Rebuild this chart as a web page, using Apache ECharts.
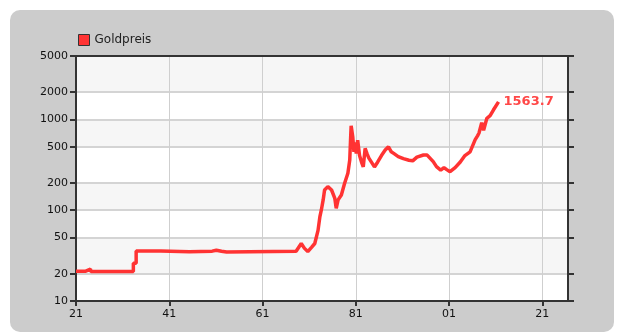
<!DOCTYPE html>
<html>
<head>
<meta charset="utf-8">
<script src="https://cdn.jsdelivr.net/npm/echarts@6/dist/echarts.min.js"></script>
<style>
  html, body { margin: 0; padding: 0; background: #fff; }
  #panel { position: absolute; left: 10px; top: 10px; width: 604px; height: 322px; background: #cccccc; border-radius: 10px; }
  #chart { position: absolute; left: 0; top: 0; width: 618px; height: 333px; }
</style>
</head>
<body>
<div id="panel"></div>
<div id="chart"></div>
<script>
const seriesName = "Goldpreis";
const lastLabel = "1563.7";

const years = [
  1921, 1923.1, 1923.2, 1924.1, 1924.2, 1933.3, 1933.3, 1933.9, 1933.9, 1939.2, 1939.2,
  1945.3, 1945.3, 1950.2, 1950.2, 1951.1, 1951.1, 1952.2, 1952.2, 1953.3, 1953.3, 1968.2,
  1969.3, 1970.0, 1970.7, 1971.5, 1972.2, 1972.9, 1973.3, 1973.6, 1974.0, 1974.3,
  1975.0, 1975.8, 1976.5, 1976.8, 1977.2, 1977.9, 1978.6, 1979.3, 1979.7, 1979.9,
  1980.0, 1980.35, 1980.6, 1980.8, 1981.1, 1981.4, 1981.8, 1982.3, 1982.6, 1983.0,
  1983.4, 1983.8, 1984.2, 1985.0, 1985.7, 1986.5, 1987.3, 1988.0, 1988.6, 1989.2,
  1990.1, 1991.2, 1992.4, 1993.2, 1994.1, 1995.5, 1996.3, 1997.6, 1998.3, 1999.2,
  1999.9, 2000.5, 2001.2, 2002.3, 2003.4, 2004.4, 2005.5, 2005.9, 2006.6, 2007.1,
  2007.4, 2008.0, 2008.4, 2009.1, 2009.8, 2010.5, 2011.6
];
const prices = [
  21.3, 21.3, 22.4, 22.4, 21.1, 21.1, 26, 26, 35.6, 35.6, 34.8,
  34.8, 35.4, 35.4, 36.3, 36.3, 35.3, 35.3, 34.6, 34.6, 35.3, 35.3,
  43, 38, 35, 39, 43, 60, 85, 100, 130, 167,
  182, 167, 135, 105, 130, 147, 198, 255, 358, 646,
  850, 640, 440, 560, 420, 590, 400, 330, 300, 480,
  420, 375, 380, 300, 340, 400, 460, 500, 440, 420,
  390, 370, 355, 350, 385, 406, 405, 343, 302, 277,
  295, 280, 266, 295, 340, 400, 440, 461, 600, 660,
  705, 920, 760, 1030, 1100, 1270, 1563.7
];
const yTicks = [10, 20, 50, 100, 200, 500, 1000, 2000, 5000];
const xTicks = [1921, 1941, 1961, 1981, 2001, 2021];

const font = "DejaVu Sans";
const chart = echarts.init(document.getElementById("chart"));

const yAxisBase = {
  type: "log",
  logBase: 10,
  min: 10,
  max: 5000,
  axisLine: { show: true, lineStyle: { color: "#333", width: 2 } },
  axisTick: { show: true, length: 6, customValues: yTicks, lineStyle: { color: "#333", width: 2 } },
  axisLabel: {
    customValues: yTicks,
    margin: 8,
    color: "#111",
    fontFamily: font,
    fontSize: 11,
    formatter: (v) => String(Math.round(v))
  },
  minorTick: { show: false },
  minorSplitLine: { show: false }
};

chart.setOption({
  animation: false,
  backgroundColor: "transparent",
  legend: {
    left: 73,
    top: 29,
    icon: "rect",
    itemWidth: 11,
    itemHeight: 11,
    itemGap: 10,
    itemStyle: { borderColor: "#333", borderWidth: 1 },
    textStyle: { color: "#222", fontFamily: font, fontSize: 12 },
    data: [seriesName]
  },
  grid: { left: 76, right: 50, top: 56, bottom: 32 },
  xAxis: [
    {
      type: "value",
      min: 1921,
      max: 2026.5,
      axisLine: { show: true, onZero: false, lineStyle: { color: "#333", width: 2 } },
      axisTick: { show: true, length: 5, customValues: xTicks, lineStyle: { color: "#333", width: 2 } },
      axisLabel: {
        customValues: xTicks,
        margin: 8,
        color: "#111",
        fontFamily: font,
        fontSize: 11,
        formatter: (v) => String(Math.round(v) % 100).padStart(2, "0")
      },
      splitLine: { show: true, lineStyle: { color: "#cfcfcf", width: 1 } }
    },
    {
      type: "value",
      position: "top",
      min: 1921,
      max: 2026.5,
      axisLine: { show: true, onZero: false, lineStyle: { color: "#333", width: 2 } },
      axisTick: { show: false },
      axisLabel: { show: false },
      splitLine: { show: false }
    }
  ],
  yAxis: [
    Object.assign({}, yAxisBase, {
      position: "left",
      splitLine: { show: true, lineStyle: { color: "#d4d4d4", width: 2 } },
      splitArea: { show: true, areaStyle: { color: ["#ffffff", "#f6f6f6"] } }
    }),
    Object.assign({}, yAxisBase, {
      position: "right",
      axisLabel: { show: false, customValues: yTicks },
      splitLine: { show: false },
      splitArea: { show: false }
    })
  ],
  series: [
    {
      name: seriesName,
      type: "line",
      xAxisIndex: 0,
      yAxisIndex: 0,
      showSymbol: false,
      symbol: "none",
      color: "#ff3333",
      lineStyle: { color: "#ff3333", width: 3.5 },
      data: years.map((y, i) => [y, prices[i]]),
      endLabel: {
        show: true,
        distance: 5,
        formatter: () => lastLabel,
        color: "#ff4848",
        fontFamily: font,
        fontWeight: "bold",
        fontSize: 13
      }
    }
  ]
});
</script>
</body>
</html>
